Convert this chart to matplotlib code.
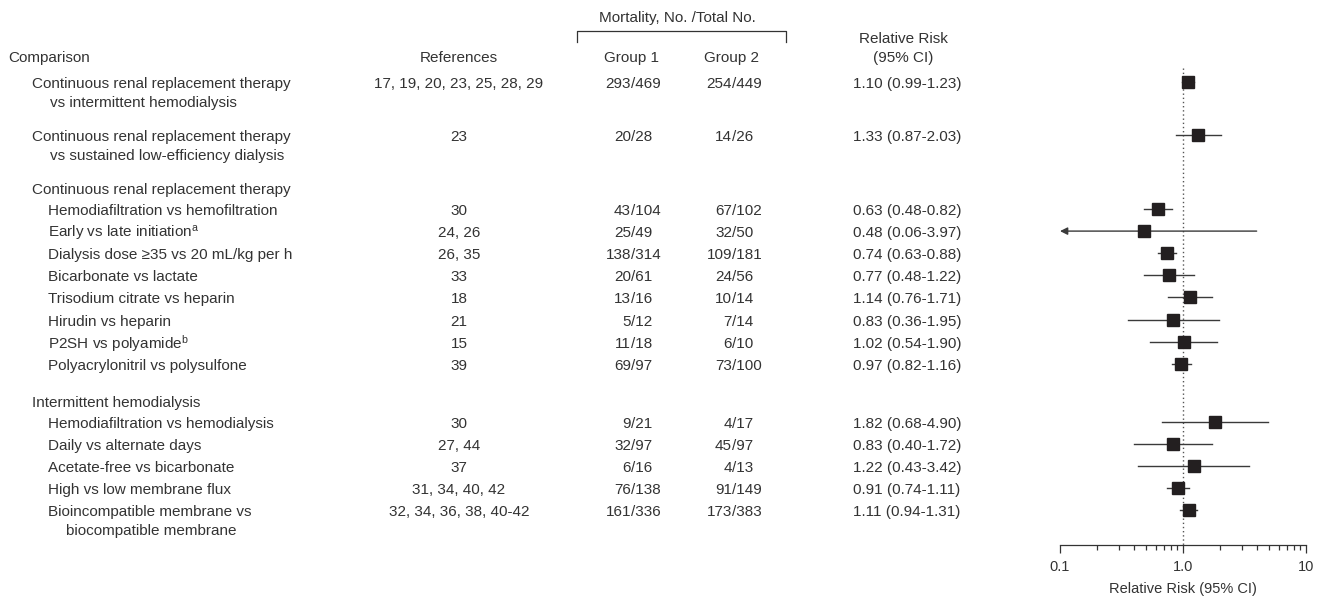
import matplotlib.pyplot as plt
from matplotlib.ticker import NullFormatter, LogLocator

plt.rcParams['font.family'] = ['Liberation Sans', 'DejaVu Sans']
plt.rcParams['mathtext.fontset'] = 'custom'
plt.rcParams['mathtext.rm'] = 'Liberation Sans'
plt.rcParams['mathtext.it'] = 'Liberation Sans'

# data
labels = [
    "Continuous renal replacement therapy\nvs intermittent hemodialysis",
    "Continuous renal replacement therapy\nvs sustained low-efficiency dialysis",
    "Hemodiafiltration vs hemofiltration",
    "Early vs late initiation$^{\\mathregular{a}}$",
    "Dialysis dose \u226535 vs 20 mL/kg per h",
    "Bicarbonate vs lactate",
    "Trisodium citrate vs heparin",
    "Hirudin vs heparin",
    "P2SH vs polyamide$^{\\mathregular{b}}$",
    "Polyacrylonitril vs polysulfone",
    "Hemodiafiltration vs hemodialysis",
    "Daily vs alternate days",
    "Acetate-free vs bicarbonate",
    "High vs low membrane flux",
    "Bioincompatible membrane vs\nbiocompatible membrane",
]
references = ["17, 19, 20, 23, 25, 28, 29", "23", "30", "24, 26", "26, 35", "33", "18",
              "21", "15", "39", "30", "27, 44", "37", "31, 34, 40, 42",
              "32, 34, 36, 38, 40-42"]
group1 = ["293/469", "20/28", "43/104", "25/49", "138/314", "20/61", "13/16", "5/12",
          "11/18", "69/97", "9/21", "32/97", "6/16", "76/138", "161/336"]
group2 = ["254/449", "14/26", "67/102", "32/50", "109/181", "24/56", "10/14", "7/14",
          "6/10", "73/100", "4/17", "45/97", "4/13", "91/149", "173/383"]
rr = [1.10, 1.33, 0.63, 0.48, 0.74, 0.77, 1.14, 0.83, 1.02, 0.97, 1.82, 0.83, 1.22, 0.91, 1.11]
ci_lo = [0.99, 0.87, 0.48, 0.06, 0.63, 0.48, 0.76, 0.36, 0.54, 0.82, 0.68, 0.40, 0.43, 0.74, 0.94]
ci_hi = [1.23, 2.03, 0.82, 3.97, 0.88, 1.22, 1.71, 1.95, 1.90, 1.16, 4.90, 1.72, 3.42, 1.11, 1.31]

section_titles = [None, None, "Continuous renal replacement therapy", "Intermittent hemodialysis"]
section_sizes = [1, 1, 8, 5]

# layout (pixel rows from the top)
W, H = 1325, 603
txt = '#333333'
fs = 11
dy = 2  # text sits a touch lower than the markers

row_y, row_x, title_y = [], [], []
y = 82
for title, n in zip(section_titles, section_sizes):
    if title is None:
        row_y.append(y)
        row_x.append(32)
        y += 53
    else:
        title_y.append(y)
        y += 21
        for k in range(n):
            row_y.append(y)
            row_x.append(48)
            y += 22.1
        y += 15

fig = plt.figure(figsize=(W / 100, H / 100), dpi=100)

# table part
tab = fig.add_axes([0, 0, 1, 1])
tab.set_xlim(0, W)
tab.set_ylim(H, 0)
tab.axis('off')

tab.text(8, 58, "Comparison", fontsize=fs, color=txt, va='center')
tab.text(459, 58, "References", fontsize=fs, color=txt, va='center', ha='center')
tab.text(631, 58, "Group 1", fontsize=fs, color=txt, va='center', ha='center')
tab.text(732, 58, "Group 2", fontsize=fs, color=txt, va='center', ha='center')
tab.text(903, 39, "Relative Risk", fontsize=fs, color=txt, va='center', ha='center')
tab.text(903, 58, "(95% CI)", fontsize=fs, color=txt, va='center', ha='center')
tab.text(677, 18, "Mortality, No. /Total No.", fontsize=fs, color=txt, va='center', ha='center')
tab.plot([577, 577, 786, 786], [42, 31, 31, 42], color=txt, lw=0.9)

for t, ty in zip([t for t in section_titles if t], title_y):
    tab.text(32, ty + dy, t, fontsize=fs, color=txt, va='center')

for i, lab in enumerate(labels):
    ty = row_y[i] + dy
    lines = lab.split("\n")
    tab.text(row_x[i], ty, lines[0], fontsize=fs, color=txt, va='center')
    for j, extra in enumerate(lines[1:]):
        tab.text(row_x[i] + 18, ty + 19 * (j + 1), extra, fontsize=fs, color=txt, va='center')
    tab.text(459, ty, references[i], fontsize=fs, color=txt, va='center', ha='center')
    for col, vals in ((631, group1), (732, group2)):
        num, den = vals[i].split("/")
        tab.text(col, ty, num, fontsize=fs, color=txt, va='center', ha='right')
        tab.text(col, ty, "/" + den, fontsize=fs, color=txt, va='center', ha='left')
    tab.text(853, ty, f"{rr[i]:.2f} ({ci_lo[i]:.2f}-{ci_hi[i]:.2f})",
             fontsize=fs, color=txt, va='center')

# forest part
ax = fig.add_axes([1060 / W, 0, 246 / W, 1])
ax.set_xscale('log')
ax.set_xlim(0.1, 10)
ax.set_ylim(H, 0)
ax.patch.set_alpha(0)

ax.vlines(1, 68, 545, colors='#555555', linestyles=(0, (1, 2)), lw=1)

for i in range(len(rr)):
    if ci_lo[i] < 0.1:
        ax.annotate("", xy=(0.1, row_y[i]), xytext=(ci_hi[i], row_y[i]),
                    arrowprops=dict(arrowstyle='-|>', mutation_scale=11, lw=1,
                                    color='#3a3a3a', shrinkA=0, shrinkB=0))
    else:
        ax.plot([ci_lo[i], ci_hi[i]], [row_y[i], row_y[i]], color='#3a3a3a', lw=1)
    ax.plot(rr[i], row_y[i], marker='s', ms=8, color='#231f20', zorder=3)

for s in ('left', 'right', 'top'):
    ax.spines[s].set_visible(False)
ax.spines['bottom'].set_position(('data', 545))
ax.spines['bottom'].set_color(txt)
ax.spines['bottom'].set_linewidth(0.9)
ax.set_yticks([])
ax.set_xticks([0.1, 1, 10])
ax.set_xticklabels(["0.1", "1.0", "10"])
ax.xaxis.set_minor_locator(LogLocator(base=10, subs=range(2, 10)))
ax.xaxis.set_minor_formatter(NullFormatter())
ax.tick_params(axis='x', which='major', length=6, width=0.9, color=txt,
               labelsize=10.5, labelcolor=txt, pad=5)
ax.tick_params(axis='x', which='minor', length=3.6, width=0.9, color=txt)
ax.text(1, 589, "Relative Risk (95% CI)", fontsize=10.5, color=txt, ha='center', va='center')

fig.savefig("out.png", dpi=100)
